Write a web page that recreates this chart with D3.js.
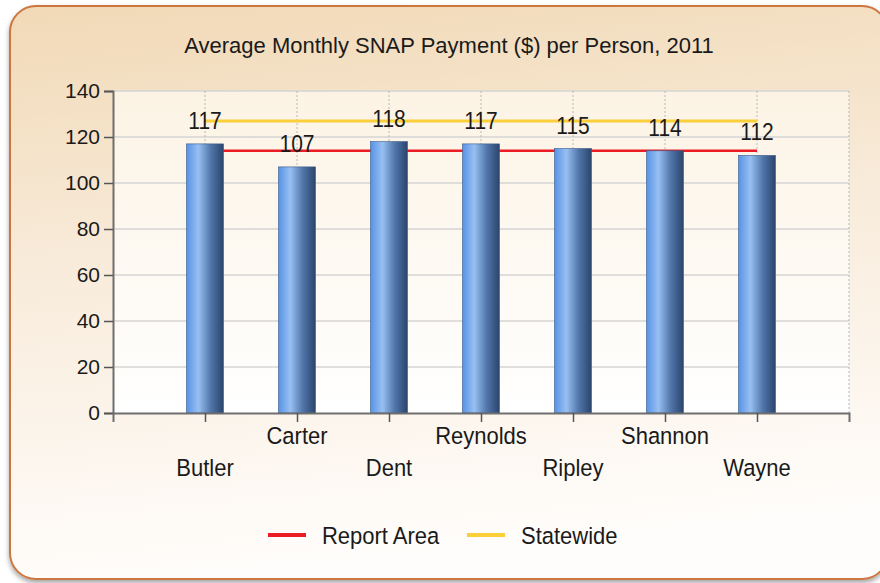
<!DOCTYPE html>
<html>
<head>
<meta charset="utf-8">
<script src="https://cdn.jsdelivr.net/npm/d3@7"></script>
<style>
  body { margin: 0; background: #ffffff; }
  svg { display: block; font-family: "Liberation Sans", Arial, sans-serif; }
</style>
</head>
<body>
<div id="chart"></div>
<script>
// data
const counties = ["Butler", "Carter", "Dent", "Reynolds", "Ripley", "Shannon", "Wayne"];
const payments = [117, 107, 118, 117, 115, 114, 112];
const reportArea = 114;
const statewide = 127;
const yTicks = [0, 20, 40, 60, 80, 100, 120, 140];
const titleText = "Average Monthly SNAP Payment ($) per Person, 2011";

const svgWidth = 880, svgHeight = 583;
const plot = { left: 113, right: 849, top: 91, bottom: 413 };

const svg = d3.select("#chart").append("svg")
    .attr("width", svgWidth)
    .attr("height", svgHeight);

const defs = svg.append("defs");

// panel background gradient
const panelGrad = defs.append("linearGradient")
    .attr("id", "panelGrad").attr("x1", 0).attr("y1", 0).attr("x2", 0.15).attr("y2", 1);
panelGrad.append("stop").attr("offset", "0%").attr("stop-color", "#f1d9b6");
panelGrad.append("stop").attr("offset", "45%").attr("stop-color", "#f8ebda");
panelGrad.append("stop").attr("offset", "100%").attr("stop-color", "#fffdfb");

const plotGrad = defs.append("linearGradient")
    .attr("id", "plotGrad").attr("x1", 0).attr("y1", 0).attr("x2", 0).attr("y2", 1);
plotGrad.append("stop").attr("offset", "0%").attr("stop-color", "#fcf3e4");
plotGrad.append("stop").attr("offset", "100%").attr("stop-color", "#ffffff");

const barGrad = defs.append("linearGradient")
    .attr("id", "barGrad").attr("x1", 0).attr("y1", 0).attr("x2", 1).attr("y2", 0);
barGrad.append("stop").attr("offset", "0%").attr("stop-color", "#5892e6");
barGrad.append("stop").attr("offset", "32%").attr("stop-color", "#98c0f2");
barGrad.append("stop").attr("offset", "65%").attr("stop-color", "#5177ab");
barGrad.append("stop").attr("offset", "100%").attr("stop-color", "#2b446c");

const shadow = defs.append("filter").attr("id", "shadow")
    .attr("x", "-5%").attr("y", "-5%").attr("width", "110%").attr("height", "115%");
shadow.append("feDropShadow")
    .attr("dx", 0).attr("dy", 3).attr("stdDeviation", 2.5)
    .attr("flood-color", "#000").attr("flood-opacity", 0.35);

// outer rounded panel
svg.append("rect")
    .attr("x", 10).attr("y", 6)
    .attr("width", 878).attr("height", 573)
    .attr("rx", 26).attr("ry", 26)
    .attr("fill", "url(#panelGrad)")
    .attr("stroke", "#cc7640")
    .attr("stroke-width", 2)
    .attr("filter", "url(#shadow)");

// text with a slight vertical stretch, like the original rendering
function addText(parent, x, y, str, size, stretch, anchor) {
    return parent.append("text")
        .attr("transform", "translate(" + x + "," + y + ") scale(1," + stretch + ")")
        .attr("text-anchor", anchor || "middle")
        .style("font-size", size + "px")
        .style("fill", "#1a1a1a")
        .text(str);
}

// title
addText(svg, 449, 53, titleText, 22, 1.0);

// scales
const x = d3.scalePoint()
    .domain(counties)
    .range([plot.left, plot.right])
    .padding(1);

const y = d3.scaleLinear()
    .domain([0, 140])
    .range([plot.bottom, plot.top]);

// plot background
svg.append("rect")
    .attr("x", plot.left).attr("y", plot.top)
    .attr("width", plot.right - plot.left)
    .attr("height", plot.bottom - plot.top)
    .attr("fill", "url(#plotGrad)");

// horizontal grid lines
svg.append("g")
    .selectAll("line")
    .data(yTicks.filter(d => d > 0))
    .enter()
    .append("line")
    .attr("x1", plot.left).attr("x2", plot.right)
    .attr("y1", d => y(d)).attr("y2", d => y(d))
    .attr("stroke", "#d4d4d4")
    .attr("stroke-width", 1.5);

// vertical dotted grid lines
svg.append("g")
    .selectAll("line")
    .data(counties.map(c => x(c)).concat([plot.right]))
    .enter()
    .append("line")
    .attr("x1", d => d).attr("x2", d => d)
    .attr("y1", plot.top).attr("y2", plot.bottom)
    .attr("stroke", "#b8b8b8")
    .attr("stroke-width", 1)
    .attr("stroke-dasharray", "2,2");

// reference lines (behind bars)
const refLine = d3.line()
    .x(d => x(d[0]))
    .y(d => y(d[1]));

svg.append("path")
    .datum(counties.map(c => [c, statewide]))
    .attr("d", refLine)
    .attr("fill", "none")
    .attr("stroke", "#fbcf3a")
    .attr("stroke-width", 3);

svg.append("path")
    .datum(counties.map(c => [c, reportArea]))
    .attr("d", refLine)
    .attr("fill", "none")
    .attr("stroke", "#ec1c24")
    .attr("stroke-width", 2.5);

// bars
const barWidth = 37;
svg.append("g")
    .selectAll("rect")
    .data(payments)
    .enter()
    .append("rect")
    .attr("x", (d, i) => x(counties[i]) - barWidth / 2)
    .attr("y", d => y(d))
    .attr("width", barWidth)
    .attr("height", d => y(0) - y(d))
    .attr("fill", "url(#barGrad)")
    .attr("stroke", "#3a5a88")
    .attr("stroke-width", 0.6);

// value labels
const valueLabels = svg.append("g");
payments.forEach((d, i) => {
    addText(valueLabels, x(counties[i]), y(d) - 15, d, 21, 1.18);
});

// y axis
const yAxis = svg.append("g")
    .attr("transform", "translate(" + plot.left + ",0)")
    .call(d3.axisLeft(y).tickValues(yTicks).tickSize(9).tickPadding(4));
yAxis.select(".domain").attr("stroke", "#6e6e6e").attr("stroke-width", 2);
yAxis.selectAll(".tick line").attr("stroke", "#555").attr("stroke-width", 1.5);
yAxis.selectAll("text")
    .style("font-size", "21px")
    .style("font-family", "Liberation Sans, Arial, sans-serif")
    .style("fill", "#1a1a1a");

// x axis
const xAxis = svg.append("g")
    .attr("transform", "translate(0," + plot.bottom + ")")
    .call(d3.axisBottom(x).tickSize(9).tickSizeOuter(9).tickFormat(""));
xAxis.select(".domain").attr("stroke", "#6e6e6e").attr("stroke-width", 2);
xAxis.selectAll(".tick line").attr("stroke", "#555").attr("stroke-width", 1.5);

// staggered category labels
const catLabels = svg.append("g");
counties.forEach((c, i) => {
    addText(catLabels, x(c), i % 2 === 1 ? 444 : 476, c, 22, 1.08);
});

// legend
const legendItems = [
    { name: "Report Area", color: "#ec1c24", x: 268 },
    { name: "Statewide", color: "#fbcf3a", x: 467 }
];
const legend = svg.append("g");
legendItems.forEach(item => {
    legend.append("line")
        .attr("x1", item.x).attr("x2", item.x + 38)
        .attr("y1", 535).attr("y2", 535)
        .attr("stroke", item.color)
        .attr("stroke-width", 4);
    addText(legend, item.x + 54, 544, item.name, 22, 1.08, "start");
});
</script>
</body>
</html>
